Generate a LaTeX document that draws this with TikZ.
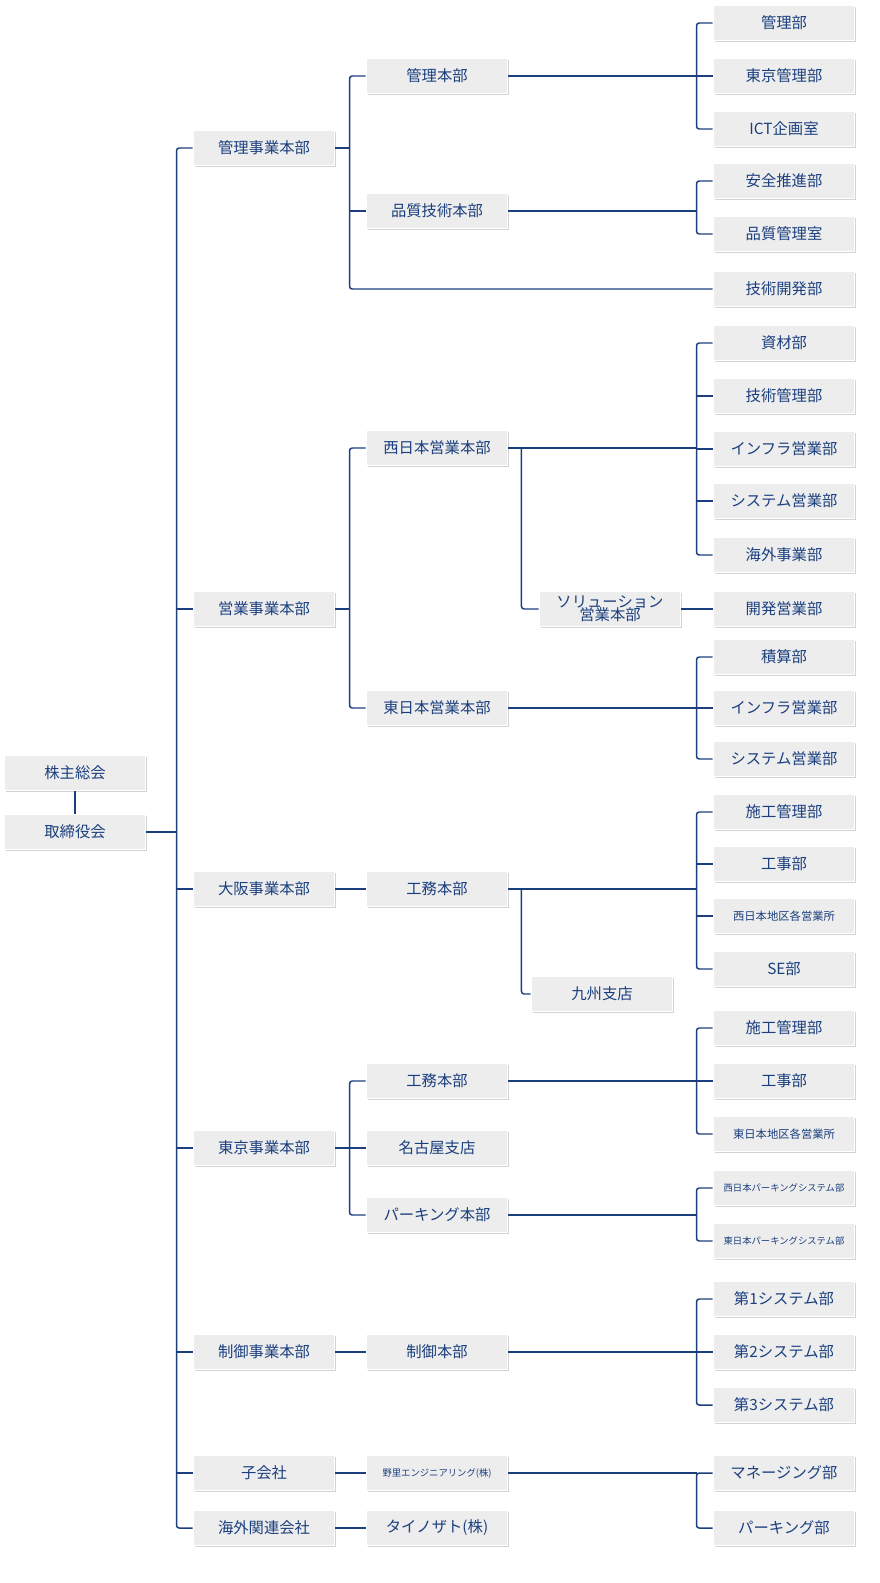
\documentclass[tikz,border=0pt]{standalone}
\usepackage{fontspec}
\setmainfont{Noto Sans CJK JP}
\usetikzlibrary{shadows,calc}
\definecolor{navy}{HTML}{1B3F7E}
\definecolor{boxgray}{HTML}{EDEDED}
\tikzset{
  org/.style={draw=white,line width=1.2pt,fill=boxgray,text=navy,
    minimum width=106pt,minimum height=26pt,inner sep=1pt,align=center,
    font=\fontsize{11.5}{13}\selectfont,
    drop shadow={shadow xshift=1.2pt,shadow yshift=-1.2pt,opacity=0.35}},
  tiny/.style={font=\fontsize{8.5}{10}\selectfont},
  tinier/.style={font=\fontsize{7}{9}\selectfont},
  link/.style={navy,line width=1.1pt,rounded corners=2pt}
}
% parent -> bracket of children at column 4
\newcommand{\fan}[3]{%
  \draw[link] (#1.east) -- ([xshift=-12pt]#1.east -| #2.west);
  \draw[link] (#2.west) -- ++(-16,0) |- (#3.west);}
\begin{document}
\begin{tikzpicture}[x=0.75pt,y=-0.75pt]
  \useasboundingbox (0,0) rectangle (880,1583);

  % board
  \node[org] (kabu) at (75,773) {株主総会};
  \node[org] (tori) at (75,832) {取締役会};

  % divisions
  \node[org] (kanri)  at (264,148)  {管理事業本部};
  \node[org] (eigyo)  at (264,609)  {営業事業本部};
  \node[org] (osaka)  at (264,889)  {大阪事業本部};
  \node[org] (tokyo)  at (264,1148) {東京事業本部};
  \node[org] (seigyo) at (264,1352) {制御事業本部};
  \node[org] (kogai)  at (264,1473) {子会社};
  \node[org] (kaigai) at (264,1528) {海外関連会社};

  % head offices
  \node[org] (kh)  at (437,76)   {管理本部};
  \node[org] (hh)  at (437,211)  {品質技術本部};
  \node[org] (wh)  at (437,448)  {西日本営業本部};
  \node[org] (sol) at (610,609)  {ソリューション\\[-3pt]営業本部};
  \node[org] (eh)  at (437,708)  {東日本営業本部};
  \node[org] (ok)  at (437,889)  {工務本部};
  \node[org] (kyu) at (602,994)  {九州支店};
  \node[org] (tk)  at (437,1081) {工務本部};
  \node[org] (nag) at (437,1148) {名古屋支店};
  \node[org] (pk)  at (437,1215) {パーキング本部};
  \node[org] (sh)  at (437,1352) {制御本部};
  \node[org,tinier] (nz) at (437,1473) {野里エンジニアリング(株)};
  \node[org] (tai) at (437,1528) {タイノザト(株)};

  % departments
  \node[org] (a1) at (784,23)  {管理部};
  \node[org] (a2) at (784,76)  {東京管理部};
  \node[org] (a3) at (784,129) {ICT企画室};
  \node[org] (b1) at (784,181) {安全推進部};
  \node[org] (b2) at (784,234) {品質管理室};
  \node[org] (b3) at (784,289) {技術開発部};
  \node[org] (c1) at (784,343) {資材部};
  \node[org] (c2) at (784,396) {技術管理部};
  \node[org] (c3) at (784,449) {インフラ営業部};
  \node[org] (c4) at (784,501) {システム営業部};
  \node[org] (c5) at (784,555) {海外事業部};
  \node[org] (c6) at (784,609) {開発営業部};
  \node[org] (d1) at (784,657) {積算部};
  \node[org] (d2) at (784,708) {インフラ営業部};
  \node[org] (d3) at (784,759) {システム営業部};
  \node[org] (e1) at (784,812) {施工管理部};
  \node[org] (e2) at (784,864) {工事部};
  \node[org,tiny] (e3) at (784,916) {西日本地区各営業所};
  \node[org] (e4) at (784,969) {SE部};
  \node[org] (f1) at (784,1028) {施工管理部};
  \node[org] (f2) at (784,1081) {工事部};
  \node[org,tiny] (f3) at (784,1134) {東日本地区各営業所};
  \node[org,tinier] (g1) at (784,1188) {西日本パーキングシステム部};
  \node[org,tinier] (g2) at (784,1241) {東日本パーキングシステム部};
  \node[org] (h1) at (784,1299) {第1システム部};
  \node[org] (h2) at (784,1352) {第2システム部};
  \node[org] (h3) at (784,1405) {第3システム部};
  \node[org] (i1) at (784,1473) {マネージング部};
  \node[org] (i2) at (784,1528) {パーキング部};

  % board links and trunk
  \draw[link] (kabu) -- (tori);
  \draw[link] (tori.east) -- ([xshift=-12pt]tori.east -| kanri.west);
  \draw[link] (kanri.west) -- ++(-16,0) |- (kaigai.west);
  \foreach \n in {eigyo,osaka,tokyo,seigyo,kogai}
    \draw[link] (\n.west) -- ++(-16,0);

  % divisions to head offices
  \draw[link] (kanri.east) -- ++(15,0);
  \draw[link] (kh.west) -- ++(-16,0) |- (b3.west);
  \draw[link] (hh.west) -- ++(-16,0);
  \draw[link] (eigyo.east) -- ++(15,0);
  \draw[link] (wh.west) -- ++(-16,0) |- (eh.west);
  \draw[link] (osaka) -- (ok);
  \draw[link] (tokyo.east) -- ++(15,0);
  \draw[link] (tk.west) -- ++(-16,0) |- (pk.west);
  \draw[link] (nag.west) -- ++(-16,0);
  \draw[link] (seigyo) -- (sh);
  \draw[link] (kogai) -- (nz);
  \draw[link] (kaigai) -- (tai);

  % sub branches
  \draw[link] ($(wh.east)+(13,0)$) |- (sol.west);
  \draw[link] (sol) -- (c6);
  \draw[link] ($(ok.east)+(13,0)$) |- (kyu.west);

  % head offices to departments
  \fan{kh}{a1}{a3}
  \draw[link] (a2.west) -- ++(-16,0);
  \fan{hh}{b1}{b2}
  \fan{wh}{c1}{c5}
  \foreach \n in {c2,c3,c4} \draw[link] (\n.west) -- ++(-16,0);
  \fan{eh}{d1}{d3}
  \draw[link] (d2.west) -- ++(-16,0);
  \fan{ok}{e1}{e4}
  \foreach \n in {e2,e3} \draw[link] (\n.west) -- ++(-16,0);
  \fan{tk}{f1}{f3}
  \draw[link] (f2.west) -- ++(-16,0);
  \fan{pk}{g1}{g2}
  \fan{sh}{h1}{h3}
  \draw[link] (h2.west) -- ++(-16,0);
  \fan{nz}{i1}{i2}
\end{tikzpicture}
\end{document}
